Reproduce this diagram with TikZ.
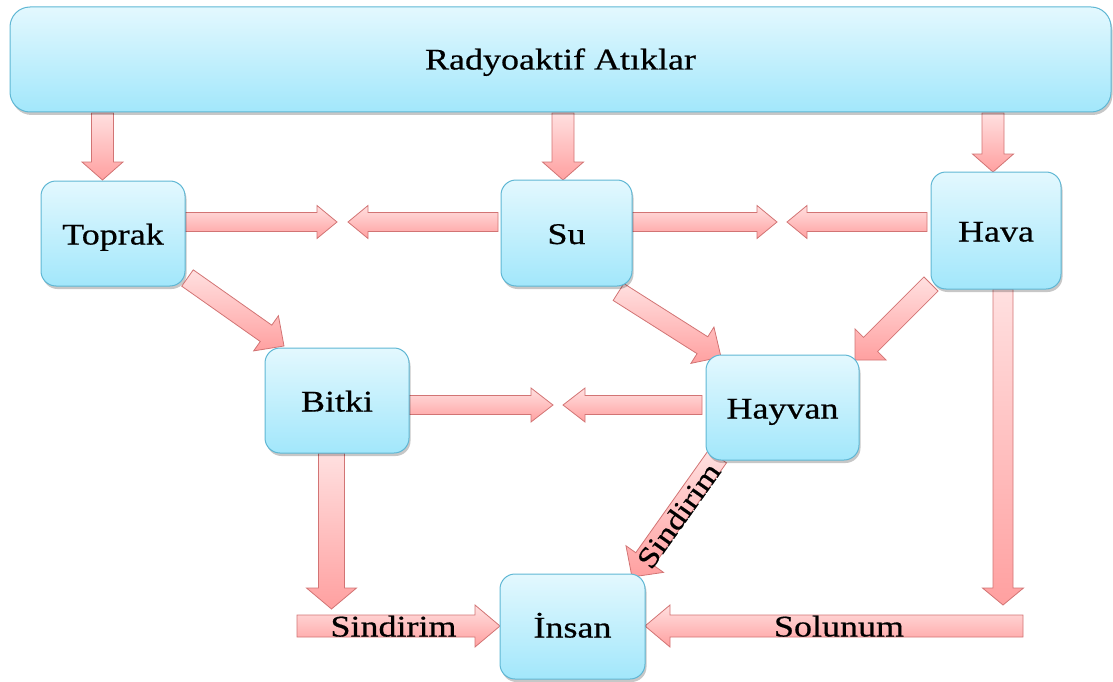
\documentclass[tikz,border=0pt]{standalone}
\usepackage{fontspec}
\usepackage{graphicx}
\setmainfont{Liberation Serif}
\newfontfamily\lblfont{Liberation Serif}[FakeBold=0.5, FakeStretch=1.2]
\usetikzlibrary{calc,shadows}
\definecolor{boxtop}{HTML}{E3F8FE}
\definecolor{boxbot}{HTML}{A2E7FB}
\definecolor{boxborder}{HTML}{5FB7D4}
\definecolor{arrlight}{HTML}{FFE0E0}
\definecolor{arrdark}{HTML}{FFA0A0}
\definecolor{arrborder}{HTML}{D27474}
\newcommand\blockarrow[5]{%
  \coordinate (ah) at ($(#2)!#5!(#1)$);
  \path[arrowstyle] ($(#1)!#3!90:(#2)$) -- ($(ah)!#3!90:(#2)$) -- ($(ah)!#4!90:(#2)$) -- (#2)
    -- ($(ah)!#4!-90:(#2)$) -- ($(ah)!#3!-90:(#2)$) -- ($(#1)!#3!-90:(#2)$) -- cycle;}
\begin{document}
\begin{tikzpicture}[x=1pt,y=-1pt,
  box/.style={draw=boxborder, line width=1pt, top color=boxtop, bottom color=boxbot,
    rounded corners=15pt, inner sep=0pt, font=\lblfont\fontsize{30}{36}\selectfont,
    text height=22pt, text depth=0pt,
    drop shadow={shadow xshift=1.5pt, shadow yshift=-3pt, opacity=0.22, fill=black}},
  arrowstyle/.style={draw=arrborder, line width=0.8pt, top color=arrlight, bottom color=arrdark, line join=miter},
  lbltext/.style={font=\lblfont\fontsize{30}{36}\selectfont, inner sep=0pt, text height=21pt, text depth=0pt}]
\useasboundingbox (0,0) rectangle (1113,682);
% arrow end points
\coordinate (a1s) at (102.5,113); \coordinate (a1e) at (102.5,180);
\coordinate (a2s) at (563,113);   \coordinate (a2e) at (563,180);
\coordinate (a3s) at (993,113);   \coordinate (a3e) at (993,172);
\coordinate (a4s) at (185,222);   \coordinate (a4e) at (337,222);
\coordinate (a5s) at (498,222);   \coordinate (a5e) at (348,222);
\coordinate (a6s) at (632,222);   \coordinate (a6e) at (777,222);
\coordinate (a7s) at (927,222);   \coordinate (a7e) at (787,222);
\coordinate (a8s) at (187.5,278); \coordinate (a8e) at (284,346);
\coordinate (a9s) at (618.5,292); \coordinate (a9e) at (721,357);
\coordinate (a10s) at (931,284);  \coordinate (a10e) at (855,360);
\coordinate (a11s) at (409,405);  \coordinate (a11e) at (553,405);
\coordinate (a12s) at (702,405);  \coordinate (a12e) at (563,405);
\coordinate (a13s) at (331.5,453); \coordinate (a13e) at (331.5,609);
\coordinate (a14s) at (297,626);  \coordinate (a14e) at (500,626);
\coordinate (a15s) at (1023,626); \coordinate (a15e) at (645,626);
\coordinate (a16s) at (1003,289); \coordinate (a16e) at (1003,605);
\coordinate (a17s) at (717.5,456.5); \coordinate (a17e) at (632,577);
% arrows
\blockarrow{a1s}{a1e}{11pt}{20.5pt}{18pt}
\blockarrow{a2s}{a2e}{11pt}{20.5pt}{18pt}
\blockarrow{a3s}{a3e}{11pt}{20.5pt}{18pt}
\blockarrow{a4s}{a4e}{9.5pt}{16.5pt}{20pt}
\blockarrow{a5s}{a5e}{9.5pt}{16.5pt}{20pt}
\blockarrow{a6s}{a6e}{9.5pt}{16.5pt}{20pt}
\blockarrow{a7s}{a7e}{9.5pt}{16.5pt}{20pt}
\blockarrow{a8s}{a8e}{10pt}{21.5pt}{22pt}
\blockarrow{a9s}{a9e}{10pt}{21.5pt}{22pt}
\blockarrow{a10s}{a10e}{10pt}{22pt}{22pt}
\blockarrow{a11s}{a11e}{9.5pt}{17pt}{22pt}
\blockarrow{a12s}{a12e}{9.5pt}{17pt}{22pt}
\blockarrow{a13s}{a13e}{13pt}{25pt}{21pt}
\blockarrow{a14s}{a14e}{11pt}{21pt}{25pt}
\blockarrow{a15s}{a15e}{11pt}{21pt}{25pt}
\blockarrow{a16s}{a16e}{10pt}{20.5pt}{17pt}
\blockarrow{a17s}{a17e}{11pt}{23pt}{22pt}
% boxes
\node[box, rounded corners=20pt, minimum width=1101pt, minimum height=105pt, text height=20pt] (banner) at (560.5,59.5) {Radyoaktif Atıklar};
\node[box, minimum width=144pt, minimum height=105pt] (toprak) at (113,233.5) {Toprak};
\node[box, minimum width=131pt, minimum height=106pt] (su) at (566.5,233) {Su};
\node[box, minimum width=130pt, minimum height=117pt] (hava) at (996,230.5) {Hava};
\node[box, minimum width=144pt, minimum height=105pt] (bitki) at (337,400.5) {Bitki};
\node[box, minimum width=153pt, minimum height=105pt] (hayvan) at (782.5,407.5) {Hayvan};
\node[box, minimum width=145pt, minimum height=105pt] (insan) at (572.5,626.5) {İnsan};
% arrow labels
\node[lbltext] (sind1) at (393.5,626) {Sindirim};
\node[lbltext] (solunum) at (839,626) {Solunum};
\node[lbltext, rotate=54.6, font=\fontsize{29}{34}\selectfont\lblfont] (sind2) at (678,515) {Sindirim};
\end{tikzpicture}
\end{document}
